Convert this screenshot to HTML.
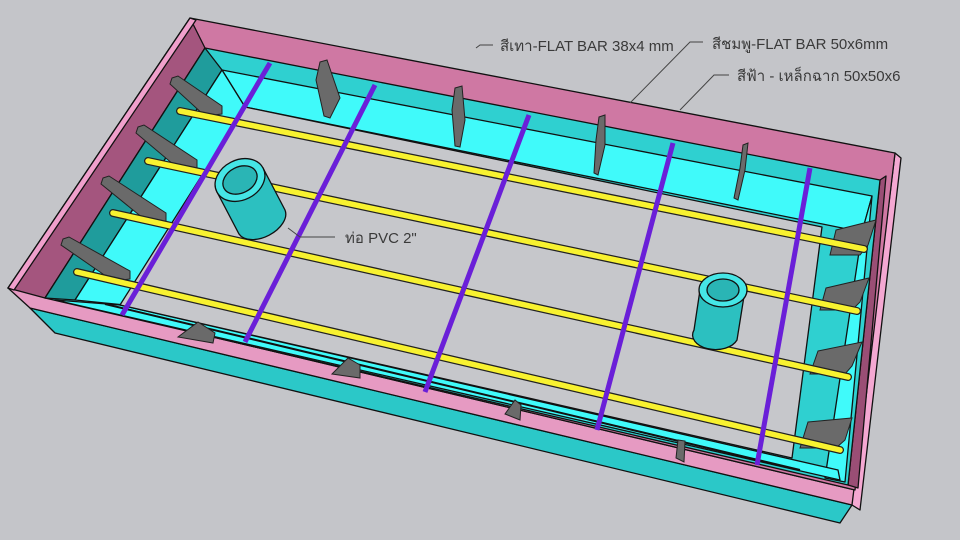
<!DOCTYPE html>
<html><head><meta charset="utf-8"><style>
html,body{margin:0;padding:0;background:#c4c5c9;}
svg{display:block;}
text{font-family:"Liberation Sans","Noto Sans CJK SC",sans-serif;fill:#3a3a3a;font-size:15px;}
</style></head><body>
<svg width="960" height="540" viewBox="0 0 960 540" xmlns="http://www.w3.org/2000/svg">
<rect width="960" height="540" fill="#c4c5c9"/>
<g stroke="#111" stroke-width="1.3" stroke-linejoin="round">
<polygon points="30,308 852,505 840,523 55,333" fill="#2bc8c8"/>
<polygon points="8,288 855,490 852,505 30,308" fill="#e69ac2"/>
<polygon points="895,153 901,158 860,510 852,505" fill="#f4a8d2"/>
<polygon points="190,18 895,153 855,490 8,288" fill="#cf78a3"/>
<polygon points="190,18 205,48 45,298 8,288" fill="#a4557e"/>
<polygon points="190,18 196,20 14,290 8,288" fill="#f0a0cc"/>
<polygon points="880,180 886,176 858,488 848,485" fill="#9a4e75"/>
<polygon points="205,48 880,180 848,485 45,298" fill="#2fd0d0"/>
<polygon points="222,70 872,196 862,232 245,107" fill="#40fafa"/>
<polygon points="205,48 222,70 75,300 45,298" fill="#1f9c9c"/>
<polygon points="222,70 245,107 125,305 75,300" fill="#40fafa"/>
<polygon points="862,232 872,196 845,482 825,478" fill="#40fafa"/>
<polygon points="55,300 840,480 838,470 120,305" fill="#40fafa"/>
<polygon points="245,107 822,227 792,458 120,305" fill="#c6c7cb"/>
</g>
<line x1="105" y1="304" x2="800" y2="470" stroke="#111" stroke-width="2"/>
<g fill="#6a6a6a" stroke="#222" stroke-width="1">
<polygon points="172,78 178,76 222,106 222,114 205,116 170,84"/>
<polygon points="138,127 144,125 197,160 197,168 180,170 136,133"/>
<polygon points="103,178 109,176 166,213 166,221 149,223 101,184"/>
<polygon points="63,239 69,237 130,271 130,279 113,281 61,245"/>
<polygon points="320,62 327,60 340,98 330,118 324,116 316,80"/>
<polygon points="455,88 462,86 465,120 460,147 455,146 452,110"/>
<polygon points="599,117 605,115 605,145 598,175 594,173 596,140"/>
<polygon points="743,145 748,143 745,170 738,200 734,198 740,168"/>
<polygon points="836,230 876,220 868,245 860,255 830,255"/>
<polygon points="826,288 869,278 860,302 852,310 820,310"/>
<polygon points="818,351 862,342 852,366 845,374 810,374"/>
<polygon points="808,422 852,418 845,440 836,448 800,448"/>
<polygon points="178,337 198,322 215,333 213,343"/>
<polygon points="332,374 348,358 360,365 360,378"/>
<polygon points="505,414 515,400 521,405 520,420"/>
<polygon points="676,458 678,440 685,441 684,462"/>
</g>
<g stroke="#222" stroke-width="8" stroke-linecap="round">
<line x1="180" y1="111" x2="864" y2="249"/>
<line x1="148" y1="161" x2="857" y2="311"/>
<line x1="113" y1="213" x2="848" y2="377"/>
<line x1="77" y1="272" x2="840" y2="450"/>
</g>
<g stroke="#f8f230" stroke-width="5.5" stroke-linecap="round">
<line x1="180" y1="111" x2="864" y2="249"/>
<line x1="148" y1="161" x2="857" y2="311"/>
<line x1="113" y1="213" x2="848" y2="377"/>
<line x1="77" y1="272" x2="840" y2="450"/>
</g>
<g stroke="#6a1fd8" stroke-width="5" stroke-linecap="butt">
<line x1="270" y1="63" x2="122" y2="315"/>
<line x1="375" y1="85" x2="245" y2="342"/>
<line x1="529" y1="115" x2="425" y2="392"/>
<line x1="673" y1="143" x2="597" y2="430"/>
<line x1="810" y1="168" x2="757" y2="465"/>
</g>
<g stroke="#111" stroke-width="1.3">
<path d="M217,192 L239,234 A26,16 -27 0 0 285,210 L263,168 Z" fill="#2cc0c0"/>
<ellipse cx="240" cy="180" rx="26" ry="20" transform="rotate(-27 240 180)" fill="#45e6e6"/>
<ellipse cx="240" cy="180" rx="18" ry="13" transform="rotate(-27 240 180)" fill="#2ab5b5"/>
<path d="M700,290 L694,330 A22,14 0 0 0 737,340 L745,290 Z" fill="#2cc0c0"/>
<ellipse cx="723" cy="290" rx="24" ry="17" fill="#45e6e6"/>
<ellipse cx="723" cy="290" rx="16" ry="11" fill="#2ab5b5"/>
</g>
<g stroke="#444" stroke-width="1" fill="none">
<polyline points="493,45 480,45 476,48"/>
<polyline points="703,42 690,42 630,103"/>
<polyline points="729,75 714,75 680,110"/>
<polyline points="288,228 300,237 335,237"/>
</g>
<text x="500" y="51">สีเทา-FLAT BAR 38x4 mm</text>
<text x="712" y="49">สีชมพู-FLAT BAR 50x6mm</text>
<text x="737" y="81">สีฟ้า - เหล็กฉาก 50x50x6</text>
<text x="345" y="243">ท่อ PVC 2"</text>
</svg>
</body></html>
